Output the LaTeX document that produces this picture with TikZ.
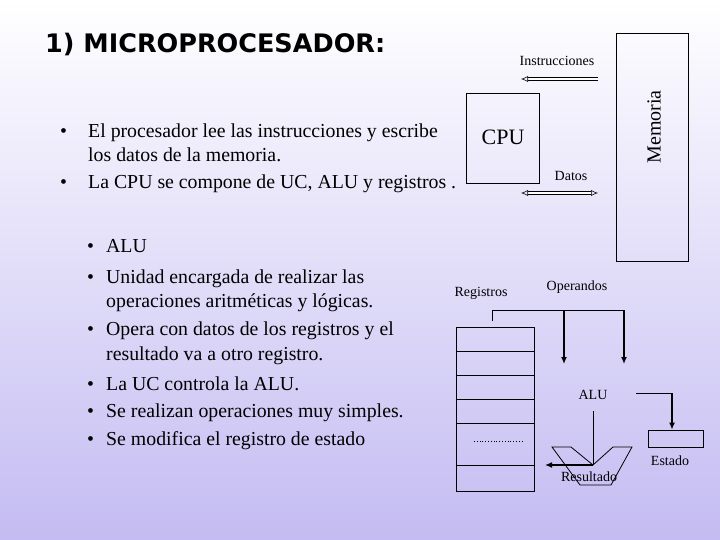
\documentclass[tikz,border=0pt]{standalone}
\usepackage{fontspec}
\setmainfont{Liberation Serif}
\newfontfamily\titlefont{DejaVu Sans}
\usetikzlibrary{arrows.meta}
\definecolor{lav}{HTML}{C4BCF2}
\tikzset{
  txt/.style={anchor=base west,inner sep=0pt,font=\fontsize{19.8}{22}\selectfont},
  lbl/.style={inner sep=0pt,font=\fontsize{14}{16}\selectfont},
  box/.style={draw,line width=0.8pt},
  thin/.style={line width=0.8pt},
  bus/.style={double,double distance=2pt,line width=0.6pt,{Latex[open,length=7pt,width=6pt]}-},
  thk/.style={line width=1.8pt,-{Latex[length=7pt,width=6pt]}}
}
\begin{document}
\begin{tikzpicture}[x=1pt,y=-1pt]
\shade[top color=white,bottom color=lav] (0,0) rectangle (720,540);
\useasboundingbox (0,0) rectangle (720,540);
% title
\node (title) [anchor=base west,inner sep=0pt,font=\titlefont\bfseries\fontsize{25.5}{28}\selectfont] at (45,53) {1) MICROPROCESADOR:};
% first bullets
\node (b1) [txt] at (60,138) {•};
\node (t1) [txt] at (88,138) {El procesador lee las instrucciones y escribe};
\node (t1b) [txt] at (88,162) {los datos de la memoria.};
\node (b2) [txt] at (60,189) {•};
\node (t2) [txt] at (88,189) {La CPU se compone de UC, ALU y registros .};
% second bullets
\foreach \y/\t [count=\i] in {252/ALU,283/Unidad encargada de realizar las,335/Opera con datos de los registros y el,390/La UC controla la ALU.,417/Se realizan operaciones muy simples.,445/Se modifica el registro de estado}{
  \node (sb\i) [txt] at (87,\y) {•};
  \node (st\i) [txt] at (106,\y) {\t};
}
\node (st2b) [txt] at (106,307) {operaciones aritméticas y lógicas.};
\node (st3b) [txt] at (106,360) {resultado va a otro registro.};
% CPU / memory
\node (cpu) [box,minimum width=73pt,minimum height=90pt] at (502.5,138) {};
\node (cput) [inner sep=0pt,font=\fontsize{22}{24}\selectfont] at (503,137) {CPU};
\node (mem) [box,minimum width=72pt,minimum height=228pt] at (652,147) {};
\node (memt) [rotate=90,inner sep=0pt,font=\fontsize{20}{22}\selectfont] at (654,127) {Memoria};
\coordinate (i1) at (598,79); \coordinate (i2) at (521,79);
\draw[bus] (i2) -- (i1);
\node (ins) [lbl] at (557,61) {Instrucciones};
\coordinate (d1) at (521,193); \coordinate (d2) at (598,193);
\draw[bus,{Latex[open,length=7pt,width=6pt]}-{Latex[open,length=7pt,width=6pt]}] (d1) -- (d2);
\node (dat) [lbl] at (571,176) {Datos};
% registers
\node (reg) [box,minimum width=78pt,minimum height=164pt] at (495,409) {};
\foreach \y in {351,375,399,423,465} \draw[thin] (456,\y) -- (534,\y);
\draw[dotted,thin] (474,441) -- (523,441);
\node (regt) [lbl] at (481,293) {Registros};
\node (ope) [lbl] at (577,287) {Operandos};
\coordinate (r0) at (492,321); \coordinate (r1) at (492,310);
\coordinate (o1) at (564,310); \coordinate (o2) at (624,310);
\coordinate (a1) at (564,364); \coordinate (a2) at (624,364);
\draw[thin] (r0) -- (r1) -- (o2);
\draw[thk] (o1) -- (a1);
\draw[thk] (o2) -- (a2);
% ALU
\node (alu) [lbl] at (593,395) {ALU};
\draw[thin] (552,447) -- (571,447) -- (593,465) -- (613,447) -- (632,447) -- (611,485) -- (580,485) -- cycle;
\coordinate (v0) at (593,411); \coordinate (v1) at (593,465); \coordinate (res) at (545,465);
\draw[thin] (v0) -- (v1);
\draw[thk] (v1) -- (res);
\node (rest) [lbl] at (589,477) {Resultado};
% estado
\node (est) [box,minimum width=55pt,minimum height=17pt] at (675.5,438.5) {};
\coordinate (e0) at (636,393); \coordinate (e1) at (672,393);
\draw[thin] (e0) -- (e1);
\draw[thk] (e1) -- (est.north -| e1);
\node (estt) [lbl] at (670,461) {Estado};
\end{tikzpicture}
\end{document}
